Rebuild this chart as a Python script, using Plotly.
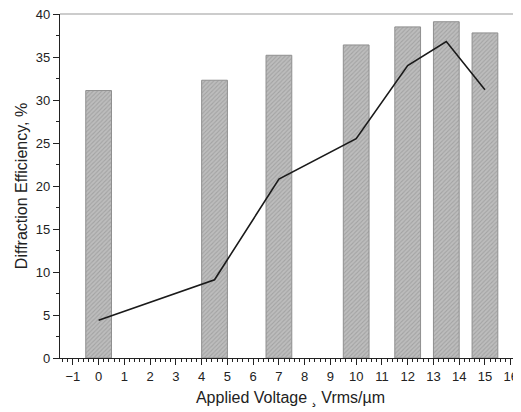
import plotly.graph_objects as go

bar_x = [0, 4.5, 7, 10, 12, 13.5, 15]
bar_y = [31.1, 32.3, 35.2, 36.4, 38.5, 39.1, 37.8]
line_x = [0, 4.5, 7, 10, 12, 13.5, 15]
line_y = [4.4, 9.1, 20.8, 25.5, 34.0, 36.8, 31.2]
x_tick_step = 1
y_tick_step = 5

fig = go.Figure()
fig.add_trace(go.Bar(
    x=bar_x, y=bar_y, width=1.0,
    marker=dict(
        color="#bdbdbd",
        line=dict(color="#8f8f8f", width=1),
        pattern=dict(shape="/", fillmode="overlay", fgcolor="#888888",
                     size=3, solidity=0.35),
    ),
    showlegend=False,
))
fig.add_trace(go.Scatter(
    x=line_x, y=line_y, mode="lines",
    line=dict(color="#1a1a1a", width=1.6),
    showlegend=False,
))

font = "Liberation Sans, Arial, sans-serif"
# page body adds an 8px offset, so the figure is 8px smaller in each direction
fig.update_layout(
    width=513, height=404,
    margin=dict(l=52, r=0, t=6, b=54, autoexpand=False),
    paper_bgcolor="white", plot_bgcolor="white",
    font=dict(family=font, size=13, color="#222"),
    xaxis=dict(
        range=[-1.5, 16.4], tickmode="linear", tick0=0, dtick=x_tick_step,
        ticks="outside", ticklen=6, ticklabeloverflow="allow",
        tickwidth=1, tickcolor="#222", showline=True, linecolor="#222",
        linewidth=1.2, showgrid=False, zeroline=False,
        minor=dict(tickmode="linear", tick0=0, dtick=0.2, ticks="outside",
                   ticklen=3, tickcolor="#222", showgrid=False),
        title=dict(text="Applied Voltage ¸ Vrms/µm", font=dict(size=16), standoff=9),
        tickfont=dict(size=13),
    ),
    yaxis=dict(
        range=[0, 40], tickmode="linear", tick0=0, dtick=y_tick_step,
        ticks="outside", ticklen=6, ticklabeloverflow="allow",
        tickwidth=1, tickcolor="#222", showline=True, linecolor="#222",
        linewidth=1.2, showgrid=False, zeroline=False,
        minor=dict(tickmode="linear", tick0=0, dtick=2.5, ticks="outside",
                   ticklen=3, tickcolor="#222", showgrid=False),
        title=dict(text="Diffraction Efficiency, %", font=dict(size=16), standoff=4),
        tickfont=dict(size=13),
    ),
    shapes=[dict(type="line", xref="paper", yref="paper", x0=0, x1=1, y0=1, y1=1,
                 line=dict(color="#9a9a9a", width=1.2))],
)

fig.write_html("out.html")
